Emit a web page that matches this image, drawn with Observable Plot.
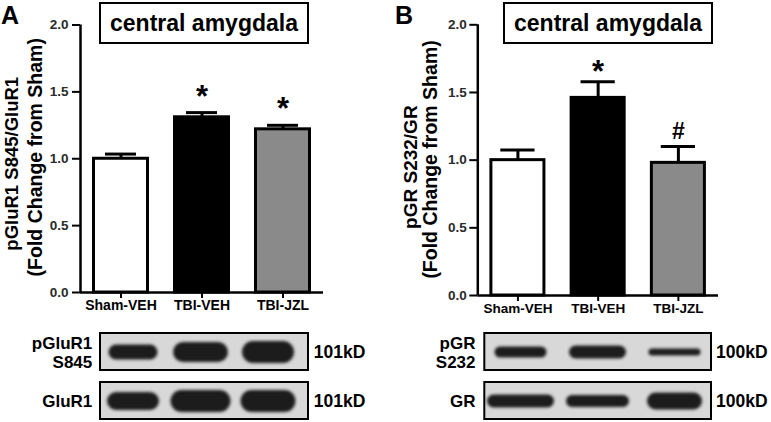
<!DOCTYPE html>
<html><head><meta charset="utf-8">
<script src="https://cdn.jsdelivr.net/npm/d3@7"></script>
<script src="https://cdn.jsdelivr.net/npm/@observablehq/plot@0.6"></script>
<style>
html,body{margin:0;padding:0;background:#fff;}
#fig{position:relative;width:771px;height:422px;overflow:hidden;background:#fff;font-family:"Liberation Sans",Arial,sans-serif;}
.slot{position:absolute;}
.slot svg{overflow:visible;}
.letter{position:absolute;font-weight:bold;font-size:25px;line-height:25px;}
.tbox{position:absolute;box-sizing:border-box;border:2px solid #000;font-weight:bold;font-size:23px;text-align:center;line-height:38px;white-space:nowrap;}
#fig g[aria-label="y-axis tick label"]{color:#2a2a2a;font-size:13.5px;}
#fig g[aria-label="y-axis tick"], #fig g[aria-label="x-axis tick"]{stroke-width:2px;}
</style></head><body><div id="fig"></div>
<script>
// ---------- data ----------
const categories = ["Sham-VEH", "TBI-VEH", "TBI-JZL"];
const yTicks = [0, 0.5, 1.0, 1.5, 2.0];
const barFills = ["#ffffff", "#000000", "#8a8a8a"];
const titleText = "central amygdala";

const valuesA = [1.00, 1.31, 1.22];
const errorsA = [0.035, 0.035, 0.03];
const marksA = ["", "*", "*"];
const yLabelA = ["pGluR1 S845/GluR1", "(Fold Change from Sham)"];

const valuesB = [1.00, 1.46, 0.98];
const errorsB = [0.075, 0.12, 0.12];
const marksB = ["", "*", "#"];
const yLabelB = ["pGR S232/GR", "(Fold Change from Sham)"];

// western blots: band intensity read as thickness / length
const blotRowsA = ["pGluR1\nS845", "GluR1"];
const blotKdA = "101kD";
const bandThickA = [[15, 20, 22], [18, 22, 22]];
const bandLenA = [[49, 55, 52], [52, 60, 55]];

const blotRowsB = ["pGR\nS232", "GR"];
const blotKdB = "100kD";
const bandThickB = [[11, 13, 7], [13, 12, 17]];
const bandLenB = [[52, 57, 52], [67, 63, 55]];

// ---------- helpers ----------
const FONT = '"Liberation Sans", Arial, sans-serif';
const fig = document.getElementById("fig");
function place(node, left, top, width) {
  const d = document.createElement("div");
  d.className = "slot";
  d.style.left = left + "px"; d.style.top = top + "px"; d.style.width = width + "px";
  d.appendChild(node); fig.appendChild(d);
}
function addDiv(cls, text, css) {
  const d = document.createElement("div");
  d.className = cls; d.textContent = text;
  Object.assign(d.style, css); fig.appendChild(d);
}
// set font sizes of rendered texts, matched on their content
function sizeTexts(svg, rules) {
  d3.select(svg).selectAll("text").each(function () {
    const t = this.textContent;
    for (const [test, px] of rules) {
      if (test(t)) { this.style.fontSize = px + "px"; break; }
    }
  });
}

function barPanel(o) {
  const n = categories.length;
  const rows = categories.map((c, i) => ({
    i, c, v: o.values[i], e: o.errors[i], top: o.values[i] + o.errors[i], m: o.marks[i], fill: barFills[i]
  }));
  const svg = Plot.plot({
    width: o.width, height: 320,
    marginLeft: o.mL, marginRight: o.mR, marginTop: o.mT, marginBottom: o.mB,
    style: {fontFamily: FONT, fontSize: "13px", fontWeight: "bold", background: "none", color: "#000"},
    color: {type: "identity"},
    x: {domain: [0, n], ticks: categories.map((c, i) => i + 0.5), tickFormat: t => categories[Math.floor(t)],
        tickSize: 6, tickPadding: 2, label: null},
    y: {domain: [yTicks[0], yTicks[yTicks.length - 1]], ticks: yTicks, tickFormat: d3.format(".1f"),
        tickSize: 8, tickPadding: o.yPad, label: null},
    marks: [
      Plot.rectY(rows, {x1: "i", x2: d => d.i + 1, y1: yTicks[0], y2: "v", fill: "fill", stroke: "#000",
        strokeWidth: 3, insetLeft: o.barInset, insetRight: o.barInset}),
      Plot.ruleX(rows, {x: d => d.i + 0.5, y1: "v", y2: "top", strokeWidth: 3, stroke: "#000"}),
      Plot.ruleY(rows, {y: "top", x1: "i", x2: d => d.i + 1, strokeWidth: 3, stroke: "#000",
        insetLeft: o.capInset, insetRight: o.capInset}),
      Plot.ruleX([0], {y1: yTicks[0], y2: yTicks[yTicks.length - 1], strokeWidth: 2.5, stroke: "#000"}),
      Plot.ruleY([yTicks[0]], {x1: 0, x2: n, strokeWidth: 2.5, stroke: "#000"}),
      Plot.text(rows.filter(d => d.m === "*"), {x: d => d.i + 0.5, y: "top", text: "m",
        dy: o.starDy, fill: "#000"}),
      Plot.text(rows.filter(d => d.m === "#"), {x: d => d.i + 0.5, y: "top", text: "m",
        dy: o.hashDy, fill: "#000"}),
      Plot.text([o.yLabel[0]], {frameAnchor: "left", textAnchor: "middle", lineAnchor: "middle",
        text: d => d, rotate: -90, dx: o.l1dx, dy: o.l1dy, fill: "#000"}),
      Plot.text([o.yLabel[1]], {frameAnchor: "left", textAnchor: "middle", lineAnchor: "middle",
        text: d => d, rotate: -90, dx: o.l2dx, dy: o.l2dy, fill: "#000"})
    ]
  });
  sizeTexts(svg, [
    [t => t === "*", 31],
    [t => t === "#", 23],
    [t => t === o.yLabel[0], o.l1Font],
    [t => t === o.yLabel[1], o.l2Font],
    [t => categories.includes(t), o.xFont]
  ]);
  return svg;
}

function blotPanel(o) {
  const n = categories.length;
  const rowData = o.rows.map((r, j) => ({row: r, j}));
  const bands = [];
  o.rows.forEach((r, j) => categories.forEach((c, i) =>
    bands.push({row: r, lane: i, t: o.thick[j][i], len: o.len[j][i]})));
  const step = (o.width - o.mL - o.mR) / n;
  const svg = Plot.plot({
    width: o.width, height: 102,
    marginLeft: o.mL, marginRight: o.mR, marginTop: 12, marginBottom: 2.7,
    style: {fontFamily: FONT, fontSize: "17px", fontWeight: "bold", background: "none", color: "#000"},
    x: {domain: [0, n], axis: null},
    y: {domain: o.rows, axis: null, paddingInner: 0.242, paddingOuter: 0},
    marks: [
      Plot.barX(rowData, {x1: 0, x2: n, y: "row", fill: "#d8d8d8", stroke: "#000", strokeWidth: 2,
        insetLeft: o.boxL, insetRight: o.boxR}),
      Plot.link(bands, {
        x1: d => d.lane + 0.5 - (d.len - d.t) / 2 / step,
        x2: d => d.lane + 0.5 + (d.len - d.t) / 2 / step,
        y1: "row", y2: "row", strokeWidth: "t", strokeLinecap: "round", stroke: "#1e1e1e"}),
      Plot.text(rowData, {x: 0, y: "row", text: "row", textAnchor: "end", dx: o.labelDx, lineHeight: 1.12,
        fill: "#000"}),
      Plot.text(rowData, {x: n, y: "row", text: () => o.kd, textAnchor: "start", dx: o.kdDx, fill: "#000"})
    ]
  });
  sizeTexts(svg, [[t => t === o.kd, 17.5]]);
  const id = "blur" + o.id;
  const defs = d3.select(svg).insert("defs", ":first-child");
  defs.append("filter").attr("id", id).attr("filterUnits", "userSpaceOnUse")
    .attr("x", 0).attr("y", 0).attr("width", o.width).attr("height", 102)
    .append("feGaussianBlur").attr("stdDeviation", 1.6);
  // blur the band group (the only mark with round line caps)
  const bandLines = d3.select(svg).selectAll("path, line").filter(function () {
    let el = this;
    while (el && el !== svg) { if (el.getAttribute && el.getAttribute("stroke-linecap") === "round") return true; el = el.parentNode; }
    return false;
  });
  const groups = new Set();
  bandLines.each(function () { groups.add(this.parentNode); });
  groups.forEach(g => g.setAttribute("filter", `url(#${id})`));
  return svg;
}

// ---------- panel A ----------
place(barPanel({
  values: valuesA, errors: errorsA, marks: marksA, yLabel: yLabelA,
  width: 390, mL: 80, mR: 67, mT: 24.5, mB: 28, yPad: 4, xFont: 14,
  barInset: 13.5, capInset: 25, starDy: -16, hashDy: -15,
  l1Font: 18.5, l1dx: -68, l1dy: 5, l2Font: 19.5, l2dx: -45, l2dy: -1.5
}), 0, 0, 390);

// ---------- panel B ----------
place(barPanel({
  values: valuesB, errors: errorsB, marks: marksB, yLabel: yLabelB,
  width: 381, mL: 87.3, mR: 53, mT: 24.3, mB: 25, yPad: 3, xFont: 13.5,
  barInset: 13.6, capInset: 23, starDy: -10, hashDy: -15,
  l1Font: 19, l1dx: -66.5, l1dy: 7, l2Font: 19.5, l2dx: -47.5, l2dy: -0.7
}), 390, 0, 381);

// ---------- blots ----------
place(blotPanel({id: "A", rows: blotRowsA, kd: blotKdA, thick: bandThickA, len: bandLenA,
  width: 390, mL: 98.75, mR: 88.75, boxL: 1.25, boxR: -6.75, labelDx: -7, kdDx: 12}), 0, 320, 390);
place(blotPanel({id: "B", rows: blotRowsB, kd: blotKdB, thick: bandThickB, len: bandLenB,
  width: 381, mL: 91.5, mR: 58.5, boxL: 2.8, boxR: 1.5, labelDx: -6.5, kdDx: 3}), 390, 320, 381);

// ---------- titles and panel letters ----------
addDiv("tbox", titleText, {left: "99px", top: "2px", width: "210px", height: "42px"});
addDiv("tbox", titleText, {left: "503px", top: "2px", width: "210px", height: "42px"});
addDiv("letter", "A", {left: "1px", top: "3px"});
addDiv("letter", "B", {left: "395px", top: "3px"});
</script></body></html>
